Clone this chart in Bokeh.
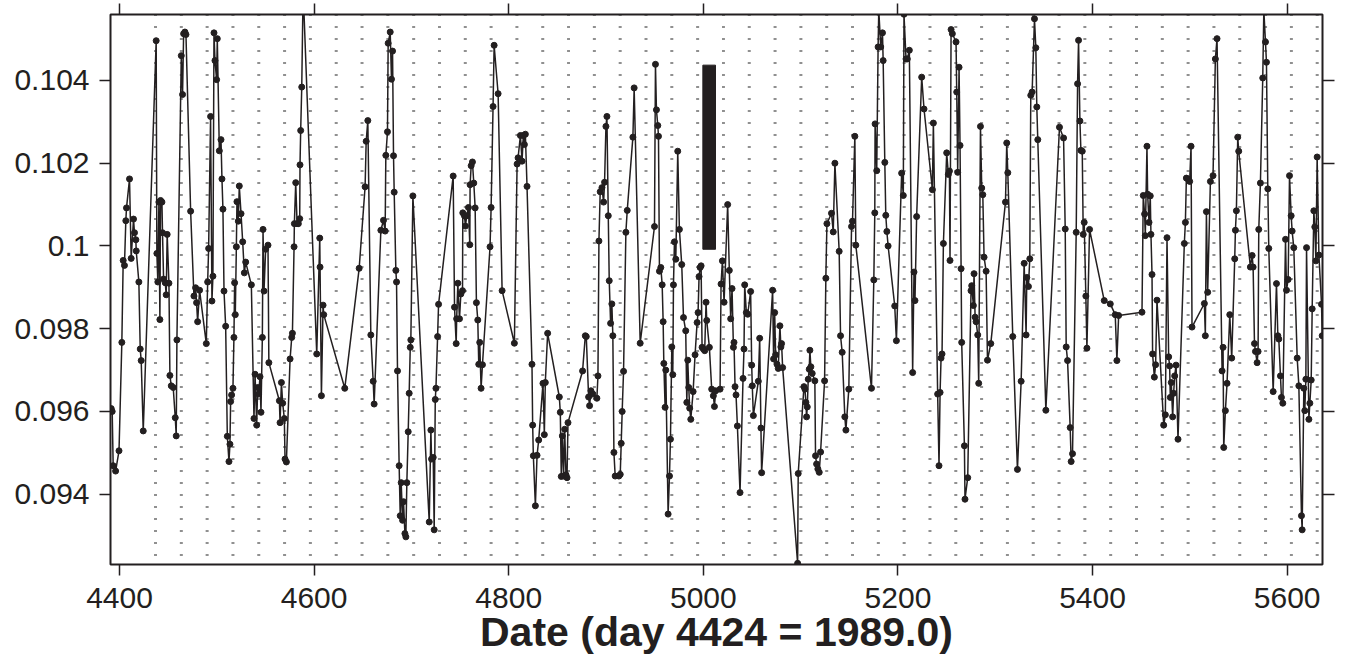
from bokeh.plotting import figure
from bokeh.models import Range1d, LinearAxis, FixedTicker, CustomJSTickFormatter
from bokeh.embed import file_html
from bokeh.resources import INLINE

obs_4390_4730 = [
    (4391.5, 0.09607), (4392.5, 0.09600), (4393.5, 0.09469), (4396.0, 0.09456), (4399.5, 0.09505), (4402.4, 0.09767),
    (4403.8, 0.09965), (4405.1, 0.09953), (4406.5, 0.10061), (4407.2, 0.10092), (4410.3, 0.10162), (4412.0, 0.09970),
    (4414.4, 0.10065), (4415.4, 0.10032), (4416.8, 0.10015), (4417.2, 0.09988), (4419.9, 0.09913), (4421.3, 0.09751),
    (4422.3, 0.09723), (4424.4, 0.09553), (4437.7, 0.10496), (4438.4, 0.09982), (4439.4, 0.09913), (4440.5, 0.10106),
    (4441.5, 0.09822), (4442.2, 0.10110), (4443.6, 0.10106), (4444.2, 0.10032), (4445.3, 0.09920), (4447.0, 0.09911),
    (4448.0, 0.09882), (4449.0, 0.10028), (4450.8, 0.09910), (4451.8, 0.09687), (4453.2, 0.09662), (4455.2, 0.09658),
    (4457.3, 0.09585), (4458.3, 0.09541), (4459.0, 0.09773), (4463.5, 0.10460), (4464.8, 0.10366), (4465.9, 0.10513),
    (4467.2, 0.10517), (4468.3, 0.10511), (4473.1, 0.10084), (4476.5, 0.09879), (4478.2, 0.09899), (4479.2, 0.09863),
    (4480.3, 0.09817), (4482.3, 0.09893), (4489.2, 0.09764), (4490.6, 0.09913), (4491.6, 0.09994), (4493.6, 0.10313),
    (4495.0, 0.09867), (4496.0, 0.09927), (4497.1, 0.10515), (4498.1, 0.10448), (4499.8, 0.10402), (4500.5, 0.10501),
    (4502.6, 0.10230), (4504.3, 0.10257), (4505.3, 0.10162), (4506.3, 0.10089), (4507.4, 0.09891), (4509.1, 0.09806),
    (4510.8, 0.09540), (4512.5, 0.09479), (4513.5, 0.09521), (4514.2, 0.09624), (4515.2, 0.09640), (4516.6, 0.09656),
    (4517.6, 0.09779), (4518.3, 0.09911), (4519.0, 0.09834), (4520.1, 0.09998), (4520.7, 0.10107), (4522.1, 0.10060),
    (4523.1, 0.10145), (4524.9, 0.10078), (4526.6, 0.10010), (4528.3, 0.09935), (4529.7, 0.09961), (4535.5, 0.09906),
    (4538.2, 0.09583), (4539.3, 0.09690), (4541.0, 0.09567), (4542.0, 0.09658), (4543.0, 0.09642), (4544.4, 0.09684),
    (4545.4, 0.09598), (4546.8, 0.09779), (4547.5, 0.10040), (4548.5, 0.09891), (4550.2, 0.09992), (4552.6, 0.10002),
    (4553.5, 0.09718), (4564.3, 0.09626), (4565.0, 0.09573), (4566.4, 0.09670), (4567.7, 0.09620), (4569.4, 0.09583),
    (4570.1, 0.09485), (4571.5, 0.09478), (4575.3, 0.09727), (4577.0, 0.09779), (4577.7, 0.09789), (4579.4, 0.09998),
    (4579.7, 0.10054), (4581.1, 0.10153), (4582.5, 0.10054), (4583.8, 0.10054), (4585.2, 0.10066), (4585.5, 0.10196),
    (4586.2, 0.10279), (4587.3, 0.10384), (4588.7, 0.10620), (4602.7, 0.09739), (4605.8, 0.10019), (4606.1, 0.09949),
    (4607.5, 0.09638), (4609.2, 0.09857), (4609.9, 0.09834), (4631.5, 0.09656), (4646.3, 0.09946), (4652.4, 0.10143),
    (4653.5, 0.10253), (4655.2, 0.10303), (4658.3, 0.09785), (4660.7, 0.09673), (4661.7, 0.09618), (4668.6, 0.10038),
    (4671.3, 0.10062), (4673.0, 0.10036), (4673.7, 0.10219), (4675.4, 0.10276), (4676.1, 0.10490), (4678.2, 0.10517),
    (4679.5, 0.10403), (4680.6, 0.10471), (4681.6, 0.10218), (4682.3, 0.10130), (4684.0, 0.09941), (4684.7, 0.09913),
    (4685.7, 0.09698), (4687.4, 0.09469), (4688.5, 0.09348), (4689.5, 0.09428), (4690.9, 0.09337), (4691.9, 0.09382),
    (4693.3, 0.09305), (4694.3, 0.09297), (4695.3, 0.09428), (4696.7, 0.09551), (4697.7, 0.09644), (4698.8, 0.09755),
    (4699.4, 0.09773), (4701.5, 0.10121), (4718.3, 0.09333), (4720.0, 0.09555), (4720.7, 0.09485), (4722.4, 0.09489),
    (4723.4, 0.09314), (4724.5, 0.09629), (4725.2, 0.09656), (4726.9, 0.09781), (4727.9, 0.09859),
]

obs_4740_5000 = [
    (4742.9, 0.10169), (4744.3, 0.09852), (4746.0, 0.09764), (4746.5, 0.09824), (4747.7, 0.09910), (4749.4, 0.09824),
    (4750.8, 0.09884), (4752.5, 0.09892), (4752.8, 0.10080), (4754.5, 0.10073), (4755.5, 0.10048), (4756.9, 0.10073),
    (4758.6, 0.10093), (4760.0, 0.10003), (4760.3, 0.10148), (4761.4, 0.10194), (4762.7, 0.10203), (4764.1, 0.10152),
    (4765.5, 0.10092), (4766.8, 0.09863), (4768.2, 0.09821), (4769.2, 0.09714), (4770.2, 0.09767), (4771.6, 0.09656),
    (4773.0, 0.09713), (4780.8, 0.09998), (4781.9, 0.10093), (4783.9, 0.10337), (4785.0, 0.10485), (4789.1, 0.10368),
    (4793.2, 0.09892), (4805.8, 0.09765), (4808.6, 0.10198), (4809.6, 0.10213), (4812.0, 0.10267), (4813.7, 0.10205),
    (4815.0, 0.10267), (4816.1, 0.10245), (4817.1, 0.10270), (4818.8, 0.10144), (4823.9, 0.09714), (4824.6, 0.09567),
    (4825.3, 0.09493), (4827.4, 0.09372), (4829.1, 0.09494), (4830.8, 0.09531), (4835.2, 0.09668), (4836.6, 0.09544),
    (4837.6, 0.09670), (4840.0, 0.09789), (4852.0, 0.09635), (4853.0, 0.09598), (4854.0, 0.09443), (4855.1, 0.09541),
    (4856.4, 0.09444), (4857.5, 0.09557), (4858.8, 0.09447), (4859.9, 0.09440), (4860.9, 0.09573), (4875.9, 0.09698),
    (4878.7, 0.09783), (4879.7, 0.09781), (4882.1, 0.09635), (4883.1, 0.09614), (4884.5, 0.09650), (4886.5, 0.09642),
    (4890.6, 0.09632), (4891.7, 0.09686), (4892.7, 0.10012), (4894.0, 0.10131), (4895.8, 0.10141), (4897.5, 0.10106),
    (4898.5, 0.10154), (4899.9, 0.10289), (4900.9, 0.10313), (4902.3, 0.10073), (4903.3, 0.09916), (4904.7, 0.09813),
    (4906.0, 0.09860), (4907.0, 0.09783), (4908.1, 0.09501), (4909.4, 0.09444), (4913.2, 0.09444), (4914.6, 0.09448),
    (4915.6, 0.09523), (4916.6, 0.09600), (4918.0, 0.09697), (4920.4, 0.10033), (4921.8, 0.10086), (4927.6, 0.10263),
    (4928.9, 0.10382), (4935.1, 0.09765), (4949.8, 0.10047), (4950.8, 0.10439), (4951.8, 0.10329), (4953.2, 0.10291),
    (4953.9, 0.10265), (4954.9, 0.09939), (4956.3, 0.09948), (4957.7, 0.09906), (4958.7, 0.09817), (4959.4, 0.09716),
    (4960.7, 0.09610), (4961.4, 0.09700), (4963.8, 0.09352), (4965.2, 0.09444), (4966.2, 0.09533), (4967.6, 0.09756),
    (4968.6, 0.09689), (4969.3, 0.09906), (4970.3, 0.10010), (4971.7, 0.09968), (4973.7, 0.10229), (4975.4, 0.10040),
    (4977.8, 0.09955), (4979.6, 0.09827), (4981.9, 0.09795), (4983.0, 0.09622), (4984.0, 0.09724), (4985.0, 0.09658),
    (4986.0, 0.09608), (4987.1, 0.09581), (4989.5, 0.09648), (4991.5, 0.09737), (4993.6, 0.09815), (4994.6, 0.09839),
    (4995.6, 0.09926), (4996.7, 0.09948), (4997.7, 0.09952), (4998.7, 0.09755),
]

obs_5000_5200 = [
    (5000.1, 0.09751), (5001.4, 0.09747), (5002.8, 0.09864), (5003.5, 0.09820), (5006.2, 0.09755), (5008.6, 0.09654),
    (5010.3, 0.09638), (5011.4, 0.09612), (5012.7, 0.09650), (5017.2, 0.09654), (5018.2, 0.09908), (5019.6, 0.09964),
    (5021.3, 0.09864), (5025.0, 0.10100), (5026.7, 0.09941), (5028.1, 0.09824), (5029.5, 0.09897), (5030.9, 0.09755),
    (5031.5, 0.09767), (5032.6, 0.09660), (5033.6, 0.09640), (5035.0, 0.09565), (5037.7, 0.09404), (5040.8, 0.09680),
    (5041.8, 0.09751), (5042.5, 0.09906), (5044.2, 0.09839), (5045.6, 0.09835), (5048.6, 0.09890), (5049.7, 0.09712),
    (5050.3, 0.09662), (5051.4, 0.09590), (5056.5, 0.09673), (5057.9, 0.09777), (5059.2, 0.09560), (5059.9, 0.09452),
    (5071.2, 0.09893), (5072.2, 0.09727), (5073.3, 0.09839), (5074.3, 0.09737), (5075.7, 0.09714), (5077.0, 0.09704),
    (5078.7, 0.09807), (5079.7, 0.09756), (5080.4, 0.09764), (5081.5, 0.09706), (5096.9, 0.09233), (5097.5, 0.09450),
    (5103.4, 0.09660), (5104.4, 0.09654), (5105.4, 0.09622), (5106.1, 0.09587), (5106.8, 0.09611), (5107.8, 0.09678),
    (5108.8, 0.09702), (5109.5, 0.09748), (5110.5, 0.09708), (5111.9, 0.09692), (5114.6, 0.09674), (5115.3, 0.09493),
    (5116.4, 0.09473), (5117.7, 0.09461), (5119.1, 0.09453), (5120.5, 0.09502), (5124.6, 0.09674), (5125.9, 0.09922),
    (5127.0, 0.10054), (5131.7, 0.10079), (5133.5, 0.10034), (5135.2, 0.10200), (5139.6, 0.09987), (5141.0, 0.09783),
    (5142.7, 0.09743), (5145.4, 0.09587), (5146.5, 0.09555), (5149.5, 0.09654), (5152.3, 0.10047), (5153.3, 0.10060),
    (5155.7, 0.10265), (5156.7, 0.10002), (5172.8, 0.09656), (5175.2, 0.09918), (5176.2, 0.10080), (5176.5, 0.10295),
    (5178.2, 0.10182), (5179.6, 0.10481), (5180.3, 0.10570), (5182.3, 0.10481), (5184.1, 0.10515), (5184.8, 0.10448),
    (5186.5, 0.10202), (5187.5, 0.10074), (5188.6, 0.10035), (5189.9, 0.10000), (5196.7, 0.09855), (5198.4, 0.09771),
]

obs_5200_5420 = [
    (5203.8, 0.10176), (5205.5, 0.10122), (5206.2, 0.10560), (5208.3, 0.10452), (5209.6, 0.10452), (5211.7, 0.10473),
    (5215.1, 0.09694), (5216.5, 0.09937), (5217.5, 0.09868), (5219.2, 0.10071), (5224.4, 0.10408), (5226.8, 0.10331),
    (5235.4, 0.10136), (5236.4, 0.10297), (5240.8, 0.09642), (5242.2, 0.09469), (5243.3, 0.09646), (5244.3, 0.09729),
    (5245.3, 0.09739), (5246.7, 0.10006), (5250.1, 0.10225), (5251.8, 0.10173), (5252.9, 0.10181), (5253.5, 0.09965),
    (5254.6, 0.10523), (5255.9, 0.10513), (5259.7, 0.10493), (5260.4, 0.10372), (5261.4, 0.10178), (5262.8, 0.10432),
    (5263.8, 0.10243), (5264.9, 0.09945), (5265.5, 0.09767), (5268.3, 0.09517), (5268.9, 0.09388), (5271.7, 0.09440),
    (5275.1, 0.09892), (5275.8, 0.09904), (5277.5, 0.09856), (5278.2, 0.09933), (5279.3, 0.09828), (5280.3, 0.09817),
    (5282.0, 0.09785), (5283.0, 0.09668), (5284.8, 0.10289), (5286.1, 0.10140), (5287.2, 0.10124), (5288.5, 0.09973),
    (5290.6, 0.09939), (5292.0, 0.09724), (5295.4, 0.09764), (5310.5, 0.10106), (5311.8, 0.10249), (5312.9, 0.10177),
    (5318.0, 0.09781), (5322.8, 0.09460), (5326.6, 0.09673), (5329.7, 0.09958), (5331.7, 0.09785), (5332.4, 0.09924),
    (5334.1, 0.09902), (5335.5, 0.09969), (5336.5, 0.10364), (5337.9, 0.10372), (5340.3, 0.10549), (5341.7, 0.10479),
    (5342.7, 0.10336), (5343.7, 0.10257), (5352.0, 0.09603), (5366.0, 0.10287), (5370.2, 0.10261), (5371.9, 0.10041),
    (5372.9, 0.09756), (5374.3, 0.09723), (5377.0, 0.09561), (5378.0, 0.09479), (5379.4, 0.09498), (5383.2, 0.10033),
    (5384.6, 0.10392), (5385.6, 0.10497), (5387.0, 0.10302), (5388.0, 0.10231), (5389.4, 0.10229), (5390.4, 0.10028),
    (5391.4, 0.10057), (5393.1, 0.09879), (5394.2, 0.09753), (5396.9, 0.10040), (5412.0, 0.09868), (5418.2, 0.09860),
]

obs_5420_5640 = [
    (5423.3, 0.09834), (5425.0, 0.09723), (5426.8, 0.09832), (5450.8, 0.09840), (5452.1, 0.10122), (5453.5, 0.10077),
    (5454.2, 0.10025), (5455.9, 0.10241), (5456.6, 0.10125), (5458.0, 0.10057), (5459.3, 0.10121), (5460.0, 0.10028),
    (5461.1, 0.09931), (5461.7, 0.09739), (5463.5, 0.09683), (5464.8, 0.09713), (5466.2, 0.09869), (5473.1, 0.09567),
    (5474.8, 0.09592), (5476.5, 0.10020), (5478.2, 0.09732), (5479.2, 0.09710), (5479.9, 0.09634), (5480.9, 0.09670),
    (5482.3, 0.09587), (5483.3, 0.09644), (5484.4, 0.09686), (5485.8, 0.09712), (5487.8, 0.09533), (5494.3, 0.10006),
    (5495.4, 0.10057), (5496.4, 0.10164), (5498.1, 0.10162), (5499.8, 0.10156), (5501.2, 0.10241), (5502.2, 0.09804),
    (5514.9, 0.09861), (5515.9, 0.09783), (5517.0, 0.10083), (5518.3, 0.09888), (5521.1, 0.10156), (5523.8, 0.10170),
    (5526.2, 0.10452), (5527.9, 0.10501), (5533.1, 0.09698), (5534.1, 0.09755), (5534.8, 0.09513), (5536.5, 0.09602),
    (5538.2, 0.09668), (5541.0, 0.09834), (5543.0, 0.09729), (5546.1, 0.09969), (5546.8, 0.10038), (5547.8, 0.10085),
    (5549.2, 0.10263), (5550.2, 0.10229), (5562.2, 0.09949), (5564.0, 0.09977), (5565.0, 0.09949), (5566.4, 0.09764),
    (5567.4, 0.09745), (5569.1, 0.09718), (5570.1, 0.09745), (5570.8, 0.10040), (5572.5, 0.10152), (5574.9, 0.10406),
    (5576.0, 0.10570), (5577.7, 0.10493), (5578.7, 0.10444), (5580.1, 0.10138), (5581.1, 0.09994), (5585.6, 0.09648),
    (5589.0, 0.09909), (5590.4, 0.09783), (5591.4, 0.09775), (5593.1, 0.09686), (5594.1, 0.09634), (5595.5, 0.09620),
    (5598.3, 0.10016), (5599.3, 0.09893), (5601.0, 0.09919), (5602.4, 0.10170), (5604.1, 0.10073), (5605.1, 0.10036),
    (5606.8, 0.09996), (5610.3, 0.09729), (5612.0, 0.09662), (5614.7, 0.09348), (5615.4, 0.09314), (5617.1, 0.09656),
    (5618.1, 0.09602), (5619.2, 0.09678), (5619.9, 0.09996), (5622.3, 0.09581), (5623.3, 0.09620), (5624.7, 0.09676),
    (5625.7, 0.09848), (5627.4, 0.10085), (5628.4, 0.10046), (5629.5, 0.09964), (5630.8, 0.10215), (5632.6, 0.09978),
    (5635.3, 0.09859), (5636.0, 0.09783),
]

# thick vertical bar (typical error) and rotation markers
bar_day = [5006.0]
bar_low = [0.09992]
bar_high = [0.10437]
bar_days_wide = 13.0

rotation_first_day = 4437.0
rotation_period_days = 26.53
rotation_count = 46

x_ticks = [4400, 4600, 4800, 5000, 5200, 5400, 5600]
y_ticks = [0.094, 0.096, 0.098, 0.100, 0.102, 0.104]
x_title = "Date (day 4424 = 1989.0)"

x_lo, x_hi = 4390.75, 5636.3
y_lo, y_hi = 0.092302, 0.105594

# ---- build ----
pairs = sorted(obs_4390_4730 + obs_4740_5000 + obs_5000_5200 + obs_5200_5420 + obs_5420_5640)
days = [d for d, _ in pairs]
vals = [v for _, v in pairs]
rot_days = [rotation_first_day + i * rotation_period_days for i in range(rotation_count)]

INK = "#231f20"
FONT = "Liberation Sans"

W, H = 1340, 658
ML, MR, MT, MB = 110, 18, 14, 94

p = figure(width=W, height=H, x_range=Range1d(x_lo, x_hi), y_range=Range1d(y_lo, y_hi),
           x_axis_type=None, y_axis_type=None, output_backend="svg", toolbar_location=None,
           min_border_left=ML, min_border_right=MR, min_border_top=MT, min_border_bottom=MB)
p.background_fill_color = "white"
p.border_fill_color = "white"
p.outline_line_color = INK
p.outline_line_width = 2

blank = CustomJSTickFormatter(code="return ''")


def style(ax, tick_out):
    ax.axis_line_color = None
    ax.major_tick_line_color = INK
    ax.major_tick_line_width = 1.5
    ax.major_tick_in = 0
    ax.major_tick_out = tick_out
    ax.minor_tick_line_color = None
    ax.major_label_text_font = FONT
    ax.major_label_text_font_size = "30px"
    ax.major_label_text_color = INK


xb = LinearAxis(ticker=FixedTicker(ticks=x_ticks),
                formatter=CustomJSTickFormatter(code="return tick.toFixed(0)"))
style(xb, 11)
xb.major_label_standoff = 12
xb.axis_label = x_title
xb.axis_label_text_font = FONT
xb.axis_label_text_font_style = "bold"
xb.axis_label_text_font_size = "41px"
xb.axis_label_text_color = INK
xb.axis_label_standoff = -2
p.add_layout(xb, "below")

xt = LinearAxis(ticker=FixedTicker(ticks=x_ticks), formatter=blank)
style(xt, 11)
xt.major_label_standoff = 0
xt.major_label_text_font_size = "0px"
p.add_layout(xt, "above")

yl = LinearAxis(ticker=FixedTicker(ticks=y_ticks),
                formatter=CustomJSTickFormatter(code="return String(+tick.toFixed(3))"))
style(yl, 11)
yl.major_label_standoff = 10
p.add_layout(yl, "left")

yr = LinearAxis(ticker=FixedTicker(ticks=y_ticks), formatter=blank)
style(yr, 12)
yr.major_label_standoff = 0
yr.major_label_text_font_size = "0px"
p.add_layout(yr, "right")

# dotted rotation markers
p.segment(x0=rot_days, y0=[y_hi] * rotation_count, x1=rot_days, y1=[y_lo] * rotation_count,
          line_color="#222222", line_width=3, line_dash="1 11")

# series
p.line(days, vals, line_color=INK, line_width=1.5)
p.scatter(days, vals, size=6, fill_color=INK, line_color=INK)

# thick bar
p.vbar(x=bar_day, width=bar_days_wide, bottom=bar_low, top=bar_high, fill_color=INK, line_color=INK)

open("out.html", "w").write(file_html(p, INLINE))
